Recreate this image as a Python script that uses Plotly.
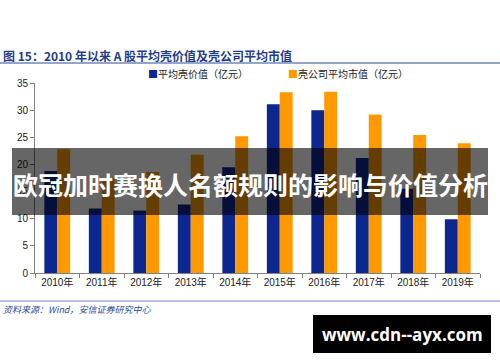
import plotly.graph_objects as go

years = ["2010年", "2011年", "2012年", "2013年", "2014年", "2015年", "2016年", "2017年", "2018年", "2019年"]
shell_value = [18.8, 11.9, 11.5, 12.6, 19.5, 31.1, 30.0, 21.2, 15.5, 9.9]
shell_mktcap = [22.8, 17.5, 18.6, 21.8, 25.2, 33.3, 33.4, 29.2, 25.4, 23.9]
series_names = ["平均壳价值（亿元）", "壳公司平均市值（亿元）"]
y_ticks = [0, 5, 10, 15, 20, 25, 30, 35]

BLUE = "#0d2791"
ORANGE = "#ff9900"
W, H = 500, 362
L, R, T, B = 35, 20, 83, 89
PW, PH = W - L - R, H - T - B

def px(x):
    return (x - L) / PW

def py(y):
    return (H - B - y) / PH

fig = go.Figure()
fig.add_trace(go.Bar(x=years, y=shell_value, name=series_names[0], marker=dict(color=BLUE, line=dict(width=0))))
fig.add_trace(go.Bar(x=years, y=shell_mktcap, name=series_names[1], marker=dict(color=ORANGE, line=dict(width=0))))

cjk = "Noto Sans CJK SC"
fig.update_layout(
    width=W, height=H,
    margin=dict(l=L, r=R, t=T, b=B, pad=0),
    paper_bgcolor="white", plot_bgcolor="white",
    barmode="group", bargap=0.42, bargroupgap=0,
    showlegend=False,
    font=dict(family="Liberation Sans, " + cjk, size=10, color="#222"),
)
fig.update_yaxes(range=[0, 35], tickvals=y_ticks, showgrid=False, zeroline=False,
                 showline=True, linecolor="#808080", linewidth=1,
                 ticks="outside", ticklen=4, tickcolor="#808080",
                 tickfont=dict(size=10, color="#222"))
fig.update_xaxes(showgrid=False, showline=True, linecolor="#808080", linewidth=1,
                 ticks="outside", ticklen=4, tickcolor="#808080", tickson="boundaries",
                 tickfont=dict(size=10, color="#222"))

shapes = []
annotations = []
# title
annotations.append(dict(xref="paper", yref="paper", x=px(1), y=py(55), xanchor="left", yanchor="middle",
                        text="<b>图 15：2010 年以来 A 股平均壳价值及壳公司平均市值</b>", showarrow=False,
                        font=dict(family=cjk, size=12, color="#1f3c88")))
shapes.append(dict(type="line", xref="paper", yref="paper", x0=px(0), x1=px(500), y0=py(63), y1=py(63),
                   line=dict(color="#2b4a9c", width=1)))
# legend
annotations.append(dict(xref="paper", yref="paper", x=px(146), y=py(73), xanchor="left", yanchor="middle",
                        text=f"<span style='color:{BLUE}'>■</span>" + series_names[0], showarrow=False,
                        font=dict(family=cjk, size=10, color="#222")))
annotations.append(dict(xref="paper", yref="paper", x=px(286), y=py(73), xanchor="left", yanchor="middle",
                        text=f"<span style='color:{ORANGE}'>■</span>" + series_names[1], showarrow=False,
                        font=dict(family=cjk, size=10, color="#222")))
# source
shapes.append(dict(type="line", xref="paper", yref="paper", x0=px(0), x1=px(500), y0=py(301), y1=py(301),
                   line=dict(color="#6f86c4", width=1)))
annotations.append(dict(xref="paper", yref="paper", x=px(1), y=py(309), xanchor="left", yanchor="middle",
                        text="<i>资料来源：Wind，安信证券研究中心</i>", showarrow=False,
                        font=dict(family=cjk, size=9, color="#2b4a9c")))
# banner
shapes.append(dict(type="rect", xref="paper", yref="paper", x0=px(12), x1=px(488), y0=py(215), y1=py(148),
                   fillcolor="rgba(0,0,0,0.6)", line=dict(width=0), layer="above"))
annotations.append(dict(xref="paper", yref="paper", x=px(250), y=py(184), xanchor="center", yanchor="middle",
                        text="<b>欧冠加时赛换人名额规则的影响与价值分析</b>", showarrow=False,
                        font=dict(family=cjk, size=25, color="white")))
# watermark box
shapes.append(dict(type="rect", xref="paper", yref="paper", x0=px(313), x1=px(491), y0=py(353), y1=py(315),
                   fillcolor="black", line=dict(width=0), layer="above"))
annotations.append(dict(xref="paper", yref="paper", x=px(402), y=py(334), xanchor="center", yanchor="middle",
                        text="<b>www.cdn--ayx.com</b>", showarrow=False,
                        font=dict(family="Open Sans, Noto Sans", size=17, color="white")))

fig.update_layout(shapes=shapes, annotations=annotations)
fig.write_html("out.html", config={"displayModeBar": False},
               post_script="document.body.style.margin='0';document.body.style.overflow='hidden';")
